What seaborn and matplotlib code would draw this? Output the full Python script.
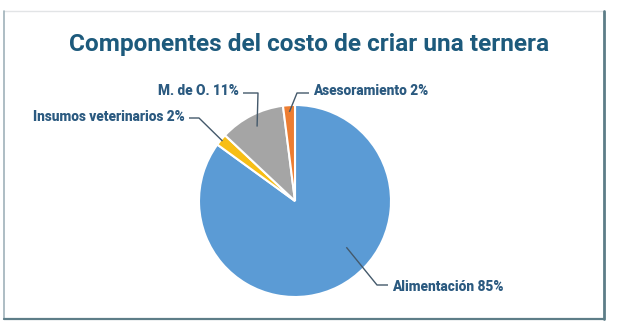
import matplotlib
matplotlib.use("Agg")
import matplotlib.pyplot as plt
import seaborn as sns
import numpy as np

# ---- data ----
title = "Componentes del costo de criar una ternera"
categories = ["Alimentación", "Insumos veterinarios", "M. de O.", "Asesoramiento"]
values = [85, 2, 11, 2]
colors = ["#5b9bd5", "#f7be16", "#a5a5a5", "#ed7d31"]

sns.set_theme(style="white")
plt.rcParams["font.family"] = ["Roboto", "DejaVu Sans"]

W, H = 618, 331
fig = plt.figure(figsize=(W / 100, H / 100), dpi=100)
ax = fig.add_axes([0, 0, 1, 1])


def Y(y):
    return H - y


cx, cy, R = 295, 201, 96
wedges, _ = ax.pie(values, colors=colors, startangle=90, counterclock=False,
                   center=(cx, Y(cy)), radius=R,
                   wedgeprops=dict(edgecolor="white", linewidth=1.5))
ax.set_xlim(0, W)
ax.set_ylim(0, H)
ax.set_aspect("equal")
ax.axis("off")

# label layout: anchor (angle or None for mid, radius frac), elbow, end, text pos, ha
layout = {
    "Alimentación": dict(ang=-42, rf=0.72, elbow=(377, 285), end=(388, 285), txt=(392, 287), ha="left"),
    "Insumos veterinarios": dict(ang=None, rf=0.98, elbow=(199, 118), end=(189, 118), txt=(185, 117), ha="right"),
    "M. de O.": dict(ang=None, rf=0.87, elbow=(258, 93), end=(243, 93), txt=(239, 91), ha="right"),
    "Asesoramiento": dict(ang=None, rf=0.93, elbow=(297, 93), end=(309, 93), txt=(313, 91), ha="left"),
}

line_col = "#44596b"
text_col = "#2b5a80"
for w, cat, v in zip(wedges, categories, values):
    L = layout[cat]
    a = L["ang"] if L["ang"] is not None else (w.theta1 + w.theta2) / 2
    ax_ = cx + L["rf"] * R * np.cos(np.radians(a))
    ay_ = Y(cy) + L["rf"] * R * np.sin(np.radians(a))
    xs = [ax_, L["elbow"][0], L["end"][0]]
    ys = [ay_, Y(L["elbow"][1]), Y(L["end"][1])]
    ax.plot(xs, ys, color=line_col, lw=1.0, solid_capstyle="butt")
    ax.text(L["txt"][0], Y(L["txt"][1]), f"{cat} {v}%", ha=L["ha"], va="center",
            fontsize=9.8, fontweight="heavy", color=text_col)

ax.text(309, Y(45), title, ha="center", va="center", fontsize=17.6,
        fontweight="bold", color="#1d5a7c")

# frame
ax.plot([4, 604], [Y(11), Y(11)], color="#e2e4e6", lw=1, clip_on=False)
ax.plot([4, 4], [Y(11), Y(319)], color="#9fb2ba", lw=1.2, clip_on=False)
ax.plot([604, 604], [Y(11), Y(319)], color="#5d7d88", lw=2, clip_on=False)
ax.plot([4, 604], [Y(319), Y(319)], color="#5d7d88", lw=1.6, clip_on=False)

fig.savefig("out.png", dpi=100, facecolor="white")
